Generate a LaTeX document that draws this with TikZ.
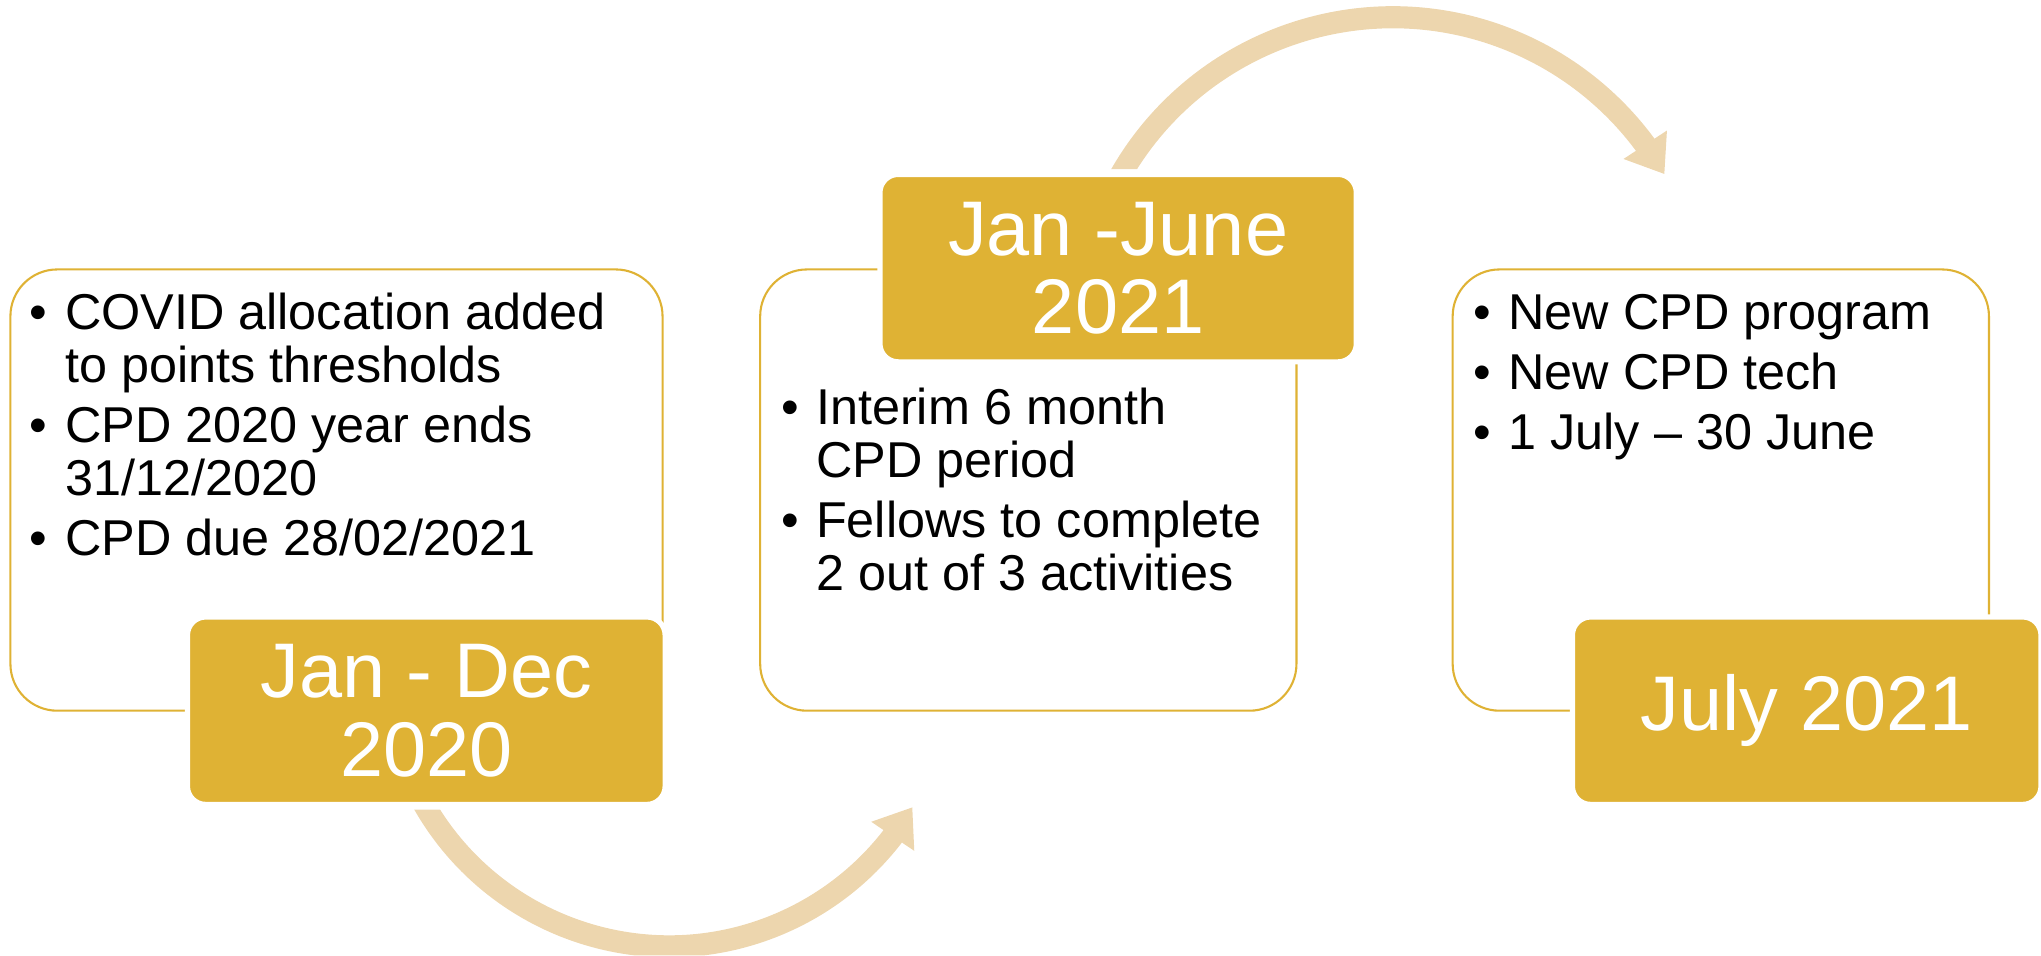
\documentclass[tikz,border=0pt]{standalone}
\usepackage{fontspec}
\setmainfont{Liberation Sans}
\usetikzlibrary{arrows.meta,bending}
\definecolor{gold}{RGB}{223,178,52}
\definecolor{tanarrow}{RGB}{237,214,174}
\begin{document}
\begin{tikzpicture}[x=1pt,y=1pt,
  wbox/.style={draw=gold, line width=1.6pt, fill=white, rounded corners=36pt,
    inner sep=0pt, outer sep=0pt, minimum height=339pt},
  gbox/.style={fill=gold, draw=white, line width=4pt, rounded corners=14pt,
    inner sep=0pt, outer sep=0pt, minimum height=144pt, text=white, align=center,
    font=\fontsize{59.5}{60}\selectfont},
  btext/.style={anchor=base west, inner sep=0pt, outer sep=0pt, text=black,
    font=\fontsize{38.7}{41}\selectfont},
  flow/.style={draw=tanarrow, line width=17pt, -{Triangle[length=27pt,width=38pt]}}
]
\useasboundingbox (0,0) rectangle (1568,734);
% white content boxes
\node[wbox, minimum width=501pt] (w1) at (258.5,357.5) {};
\node[wbox, minimum width=412pt] (w2) at (790,357.5) {};
\node[wbox, minimum width=412pt] (w3) at (1322,357.5) {};
% gold title boxes
\node[gbox, minimum width=367pt] (g1) at (327.5,188) {Jan - Dec\\2020};
\node[gbox, minimum width=366pt] (g2) at (859,528) {Jan -June\\2021};
\node[gbox, minimum width=360pt] (g3) at (1388,188) {July 2021};
% bullet texts
\node[btext] (t1) at (23,481) {\begin{tabular}[t]{@{}l@{}l@{}}
\makebox[27pt][l]{•} & COVID allocation added\\
 & to points thresholds\\[5pt]
\makebox[27pt][l]{•} & CPD 2020 year ends\\
 & 31/12/2020\\[5pt]
\makebox[27pt][l]{•} & CPD due 28/02/2021
\end{tabular}};
\node[btext] (t2) at (600,408) {\begin{tabular}[t]{@{}l@{}l@{}}
\makebox[27pt][l]{•} & Interim 6 month\\
 & CPD period\\[5pt]
\makebox[27pt][l]{•} & Fellows to complete\\
 & 2 out of 3 activities
\end{tabular}};
\node[btext] (t3) at (1132,481) {\begin{tabular}[t]{@{}l@{}l@{}}
\makebox[27pt][l]{•} & New CPD program\\[5pt]
\makebox[27pt][l]{•} & New CPD tech\\[5pt]
\makebox[27pt][l]{•} & 1 July – 30 June
\end{tabular}};
% curved arrows
\coordinate (c1) at (514,224);
\coordinate (c2) at (1070,479.7);
\begin{scope}
\clip (0,0) rectangle (600,112) (600,0) rectangle (1568,734);
\draw[flow] ([shift={(205:217)}]c1) arc[start angle=205, end angle=329.5, radius=217];
\end{scope}
\begin{scope}
\clip (0,604) rectangle (960,734) (960,0) rectangle (1568,734);
\draw[flow] ([shift={(155:241)}]c2) arc[start angle=155, end angle=30, radius=241];
\end{scope}
\end{tikzpicture}
\end{document}
